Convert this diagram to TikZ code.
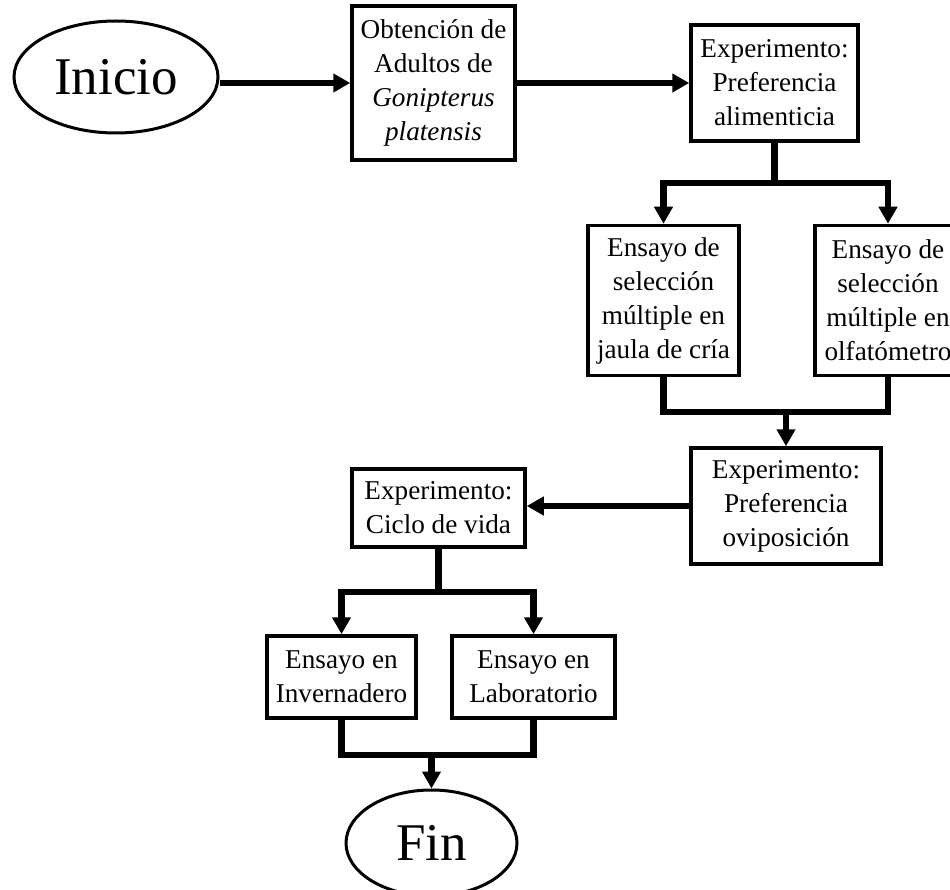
\documentclass[tikz,border=0pt]{standalone}
\usepackage{fontspec}
\setmainfont{Liberation Serif}
\usetikzlibrary{arrows.meta,shapes.geometric}
\begin{document}
\begin{tikzpicture}[x=1pt,y=-1pt,
  box/.style={draw=black,line width=3.5pt,fill=white,inner sep=0pt,align=center,
    font=\fontsize{27.2}{34}\selectfont},
  term/.style={draw=black,ellipse,line width=3pt,inner sep=0pt,
    font=\fontsize{53}{60}\selectfont},
  conn/.style={line width=6.5pt,line join=miter},
  arr/.style={conn,-{Triangle[length=17pt,width=18pt]}}]
\useasboundingbox (0,0) rectangle (950,890);
\fill[white] (0,0) rectangle (950,890);
% nodes
\node[term,minimum width=204pt,minimum height=112pt] (inicio) at (116,77) {Inicio};
\node[box,minimum width=163pt,minimum height=154pt] (obt) at (433.5,83)
  {Obtención de\\Adultos de\\\textit{Gonipterus}\\\textit{platensis}};
\node[box,minimum width=167pt,minimum height=116pt] (exp1) at (774.5,83)
  {Experimento:\\Preferencia\\alimenticia};
\node[box,minimum width=151pt,minimum height=150pt] (selA) at (663.5,300.5)
  {Ensayo de\\selección\\múltiple en\\jaula de cría};
\node[box,minimum width=146pt,minimum height=150pt] (selB) at (888,300.5)
  {Ensayo de\\selección\\múltiple en\\olfatómetro};
\node[box,minimum width=190pt,minimum height=116pt] (ovip) at (786,506)
  {Experimento:\\Preferencia\\oviposición};
\node[box,minimum width=173pt,minimum height=78pt] (ciclo) at (438.5,508)
  {Experimento:\\Ciclo de vida};
\node[box,minimum width=149pt,minimum height=82pt] (inv) at (341.5,677)
  {Ensayo en\\Invernadero};
\node[box,minimum width=163pt,minimum height=82pt] (lab) at (533.5,677)
  {Ensayo en\\Laboratorio};
\node[term,minimum width=171pt,minimum height=106pt] (fin) at (431.5,843) {Fin};
% coordinates
\coordinate (b1) at (exp1.south |- 0,183);
\coordinate (m1) at (ovip.north |- 0,412);
\coordinate (b2) at (ciclo.south |- 0,592);
\coordinate (m2) at (fin.north |- 0,755);
% connectors
\draw[arr] (inicio.east |- obt.west) -- (obt.west);
\draw[arr] (obt.east) -- (exp1.west);
\draw[conn] (exp1.south) -- (b1);
\draw[arr] (b1) -| (selA.north);
\draw[arr] (b1) -| (selB.north);
\draw[conn] (selA.south) |- (m1) -| (selB.south);
\draw[arr] (m1) -- (ovip.north);
\draw[arr] (ovip.west) -- (ciclo.east |- ovip.west);
\draw[conn] (ciclo.south) -- (b2);
\draw[arr] (b2) -| (inv.north);
\draw[arr] (b2) -| (lab.north);
\draw[conn] (inv.south) |- (m2) -| (lab.south);
\draw[arr] (m2) -- (fin.north);
\end{tikzpicture}
\end{document}
